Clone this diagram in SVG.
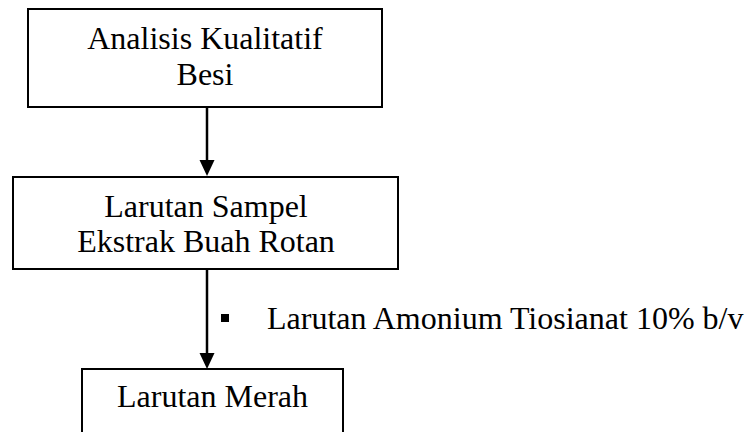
<svg xmlns="http://www.w3.org/2000/svg" width="752" height="432" viewBox="0 0 752 432">
  <style>
    .box { fill: #fff; stroke: #000; stroke-width: 2; }
    .lbl { font-family: "Liberation Serif", "Times New Roman", serif; font-size: 32px; fill: #000; text-anchor: middle; }
    .side { font-family: "Liberation Serif", "Times New Roman", serif; font-size: 32px; fill: #000; }
    .edge { stroke: #000; stroke-width: 2.5; fill: none; }
    .head { fill: #000; }
  </style>
  <rect width="752" height="432" fill="#fff"/>

  <g id="node-analisis">
    <rect class="box" x="28" y="9" width="354" height="98"/>
    <text class="lbl" x="205" y="49">Analisis Kualitatif</text>
    <text class="lbl" x="205" y="85">Besi</text>
  </g>

  <g id="node-sampel">
    <rect class="box" x="13" y="177" width="385" height="92"/>
    <text class="lbl" x="206" y="217">Larutan Sampel</text>
    <text class="lbl" x="206" y="252">Ekstrak Buah Rotan</text>
  </g>

  <g id="node-merah">
    <rect class="box" x="82" y="369" width="261" height="80"/>
    <text class="lbl" x="212.5" y="407">Larutan Merah</text>
  </g>

  <g id="connectors">
    <line class="edge" x1="207" y1="107" x2="207" y2="161"/>
    <path class="head" d="M199.5,160 L214.5,160 L207,176 Z"/>
    <line class="edge" x1="207" y1="269" x2="207" y2="354"/>
    <path class="head" d="M199.5,353 L214.5,353 L207,369 Z"/>
  </g>

  <g id="reagent-note">
    <rect x="221" y="314" width="8" height="8" fill="#000"/>
    <text class="side" x="267" y="329">Larutan Amonium Tiosianat 10% b/v</text>
  </g>
</svg>
